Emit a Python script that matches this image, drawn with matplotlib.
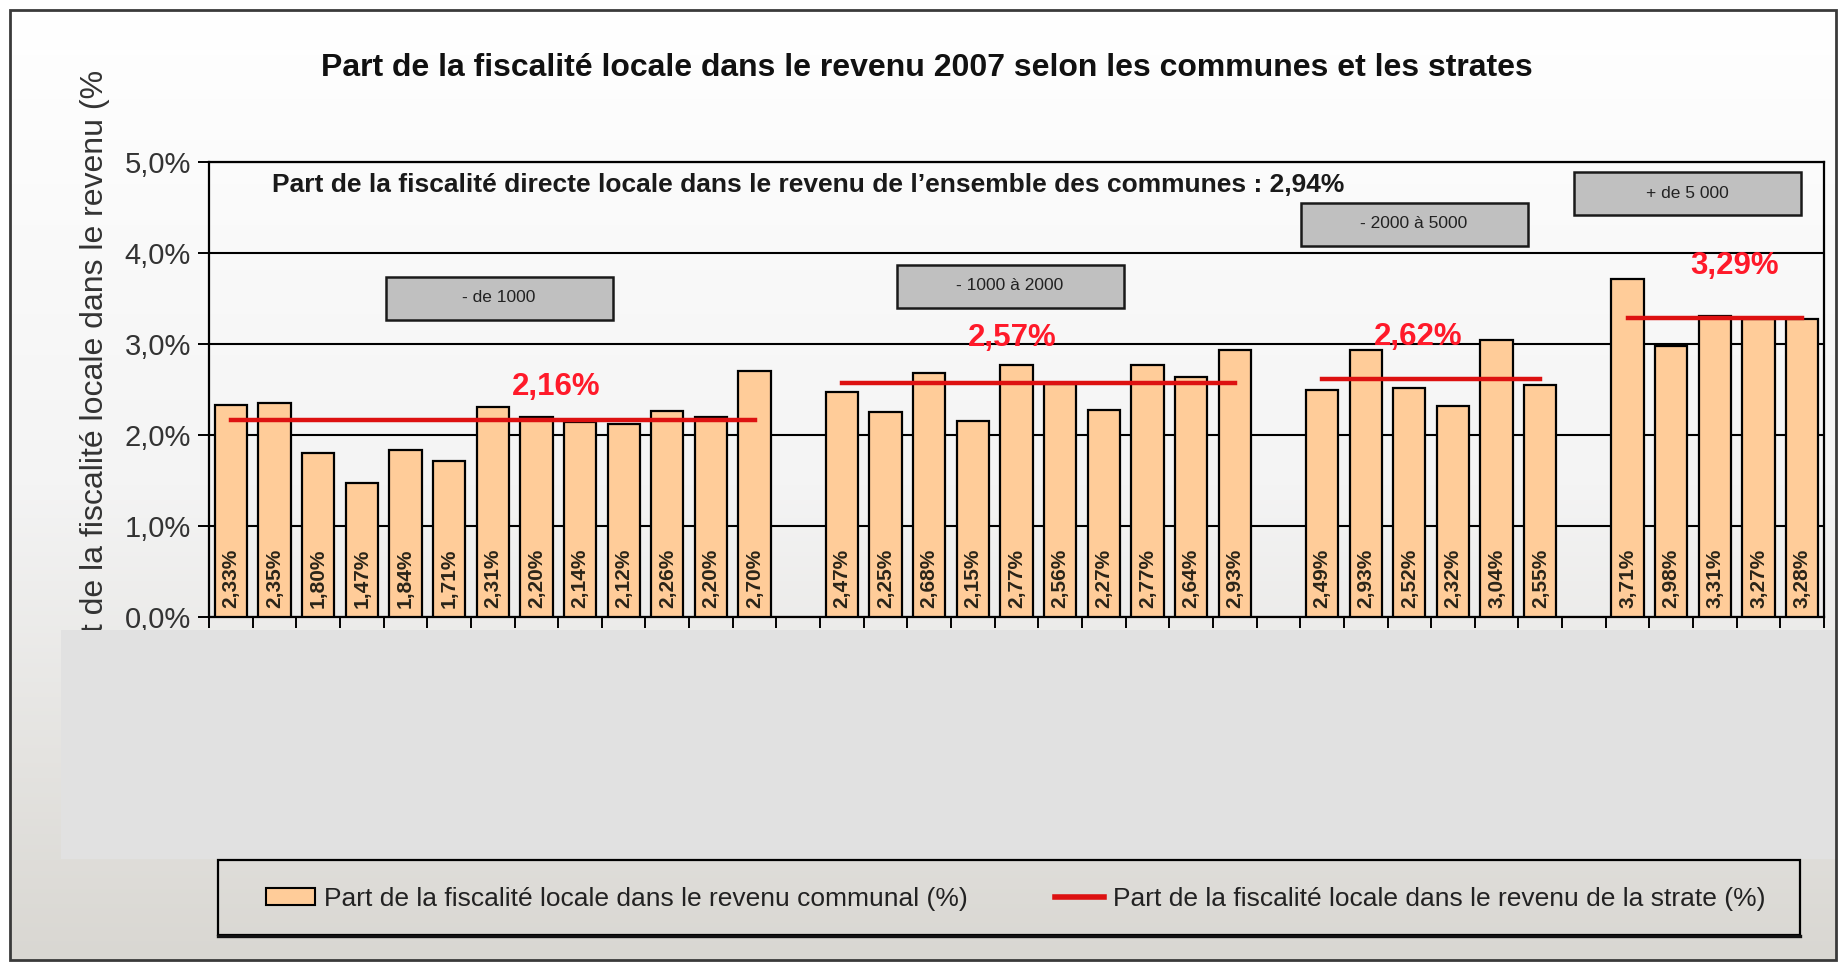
import numpy as np
import matplotlib
matplotlib.use("Agg")
import matplotlib.pyplot as plt
from matplotlib.colors import LinearSegmentedColormap
from matplotlib.patches import Rectangle, Patch
from matplotlib.lines import Line2D

plt.rcParams["font.family"] = ["Liberation Sans", "DejaVu Sans"]

# données
strates = ["- de 1000", "- 1000 à 2000", "- 2000 à 5000", "+ de 5 000"]
part_g1 = [2.33, 2.35, 1.80, 1.47, 1.84, 1.71, 2.31, 2.20, 2.14, 2.12, 2.26, 2.20, 2.70]
part_g2 = [2.47, 2.25, 2.68, 2.15, 2.77, 2.56, 2.27, 2.77, 2.64, 2.93]
part_g3 = [2.49, 2.93, 2.52, 2.32, 3.04, 2.55]
part_g4 = [3.71, 2.98, 3.31, 3.27, 3.28]
part_strate = [2.16, 2.57, 2.62, 3.29]
part_ensemble = 2.94
y_ticks = [0, 1, 2, 3, 4, 5]

groupes = [part_g1, part_g2, part_g3, part_g4]

W, H = 1840, 965


def fx(x):
    return x / W


def fy(y):
    return 1 - y / H


def pct(v, nd=2):
    return f"{v:.{nd}f}%".replace(".", ",")


fig = plt.figure(figsize=(W / 100, H / 100), dpi=100, facecolor="white")

# fond dégradé du graphique
bg = fig.add_axes([fx(10), fy(960), fx(1826), (960 - 10) / H], zorder=-10)
grad = np.linspace(0, 1, 256).reshape(-1, 1)
cmap_bg = LinearSegmentedColormap.from_list("bg", ["#ffffff", "#f4f4f4", "#d9d7d2"])
bg.imshow(grad, aspect="auto", cmap=cmap_bg, extent=[0, 1, 0, 1], origin="upper")
bg.axis("off")

ax = fig.add_axes([fx(209), fy(617), fx(1824 - 209), (617 - 162) / H])
ax.set_facecolor("none")

pos = 0
xs = []
for g in groupes:
    x = np.arange(pos, pos + len(g))
    xs.append(x)
    pos += len(g) + 1
n_cat = pos - 1

bar_color = "#ffcc99"
for x, g in zip(xs, groupes):
    ax.bar(x, g, width=0.74, color=bar_color, edgecolor="black", linewidth=1.6, zorder=3)
    for xi, v in zip(x, g):
        ax.text(xi, 0.1, pct(v), rotation=90, ha="center", va="bottom",
                fontsize=15, fontweight="bold", color="#2a2418", zorder=5)

label_pos = [(7.46, 2.53), (17.9, 3.07), (27.2, 3.08), (34.45, 3.86)]
for x, m, (lx, ly) in zip(xs, part_strate, label_pos):
    ax.plot([x[0], x[-1]], [m, m], color="#dd1111", linewidth=3.2, zorder=4)
    ax.text(lx, ly, pct(m), ha="center", va="center",
            fontsize=22.5, fontweight="bold", color="#ff1a2a", zorder=6)

ax.set_xlim(-0.5, n_cat - 0.5)
ax.set_ylim(0, 5)
ax.set_yticks(y_ticks)
ax.set_yticklabels([pct(t, 1) for t in y_ticks], fontsize=21, color="#333333")
ax.set_xticks(np.arange(-0.5, n_cat, 1))
ax.set_xticklabels([])
ax.tick_params(axis="both", direction="out", length=8, width=1.4, color="black")
ax.tick_params(axis="y", pad=5)
ax.grid(axis="y", color="black", linewidth=1.5, zorder=0)
ax.set_axisbelow(True)
for s in ax.spines.values():
    s.set_linewidth(1.6)
    s.set_color("black")

ax.text((272 - 209) / (1824 - 209), 0.95,
        "Part de la fiscalité directe locale dans le revenu de l’ensemble des communes : " + pct(part_ensemble),
        transform=ax.transAxes, ha="left", va="center", fontsize=19, fontweight="bold", color="#1a1a1a")

fig.text(fx(927), fy(68), "Part de la fiscalité locale dans le revenu 2007 selon les communes et les strates",
         ha="center", va="center", fontsize=23, fontweight="bold", color="#111111")

fig.text(fx(95), fy(70), "Part de la fiscalité locale dans le revenu (%", rotation=90,
         ha="center", va="top", fontsize=23, color="#333333")

# étiquettes des strates
box_px = [(386, 277), (897, 265), (1301, 203), (1574, 172)]
for name, (bx, by) in zip(strates, box_px):
    fig.add_artist(Rectangle((fx(bx), fy(by + 43)), 227 / W, 43 / H, transform=fig.transFigure,
                             facecolor="#c0c0c0", edgecolor="#1a1a1a", linewidth=1.8, zorder=8))
    fig.text(fx(bx + 113), fy(by + 21), name, ha="center", va="center", fontsize=12.5,
             color="#222222", zorder=9)

# zone masquée
fig.add_artist(Rectangle((fx(61), fy(859)), (1836 - 61) / W, (859 - 630) / H, transform=fig.transFigure,
                         facecolor="#e1e1e1", edgecolor="none", zorder=10))

# cadre extérieur
fig.add_artist(Rectangle((fx(10), fy(960)), (1836 - 10) / W, (960 - 10) / H, transform=fig.transFigure,
                         facecolor="none", edgecolor="#3a3a3a", linewidth=2, zorder=11))

# légende
fig.add_artist(Rectangle((fx(218), fy(935)), (1800 - 218) / W, (935 - 860) / H, transform=fig.transFigure,
                         facecolor="none", edgecolor="black", linewidth=1.6, zorder=11))
fig.add_artist(Line2D([fx(218), fx(1800)], [fy(936), fy(936)], transform=fig.transFigure,
                      color="#111111", linewidth=2.4, zorder=11))
handles = [Patch(facecolor=bar_color, edgecolor="black", linewidth=1.5),
           Line2D([], [], color="#dd1111", linewidth=4)]
labels = ["Part de la fiscalité locale dans le revenu communal (%)",
          "Part de la fiscalité locale dans le revenu de la strate (%)"]
leg = fig.legend(handles, labels, loc="center", ncol=2, bbox_to_anchor=(fx(1016), fy(899)),
                 fontsize=19, frameon=False, handlelength=1.86, handleheight=0.6,
                 handletextpad=0.35, columnspacing=3.3, borderpad=0)
for t in leg.get_texts():
    t.set_color("#222222")

fig.savefig("out.png", dpi=100, facecolor="white")
